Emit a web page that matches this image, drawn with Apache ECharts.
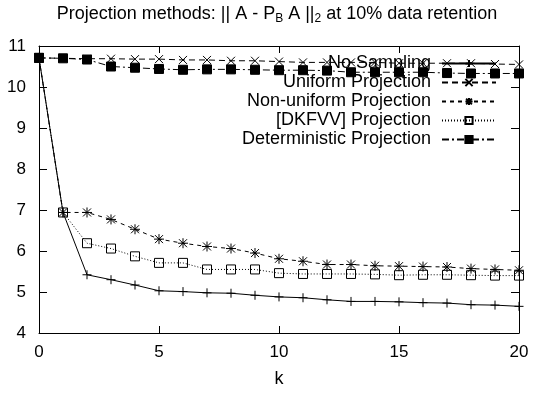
<!DOCTYPE html>
<html>
<head>
<meta charset="utf-8">
<script src="https://cdn.jsdelivr.net/npm/echarts@6/dist/echarts.min.js"></script>
<style>html,body{margin:0;padding:0;background:#fff}#c{width:533px;height:393px}</style>
</head>
<body>
<div id="c"></div>
<script>
var kValues = [0,1,2,3,4,5,6,7,8,9,10,11,12,13,14,15,16,17,18,19,20];
var seriesNames = ['No Sampling','Uniform Projection','Non-uniform Projection','[DKFVV] Projection','Deterministic Projection'];
var noSampling = [10.71, 6.94, 5.42, 5.30, 5.17, 5.03, 5.01, 4.98, 4.97, 4.92, 4.88, 4.86, 4.81, 4.77, 4.77, 4.76, 4.74, 4.73, 4.69, 4.68, 4.65];
var uniform = [10.71, 10.70, 10.69, 10.69, 10.68, 10.68, 10.66, 10.66, 10.64, 10.64, 10.62, 10.60, 10.60, 10.60, 10.60, 10.58, 10.58, 10.58, 10.58, 10.56, 10.55];
var nonUniform = [10.71, 6.94, 6.94, 6.77, 6.53, 6.29, 6.19, 6.11, 6.06, 5.95, 5.81, 5.75, 5.67, 5.67, 5.64, 5.63, 5.62, 5.61, 5.57, 5.55, 5.53];
var dkfvv = [10.71, 6.94, 6.19, 6.06, 5.87, 5.71, 5.71, 5.55, 5.55, 5.55, 5.46, 5.44, 5.44, 5.44, 5.43, 5.41, 5.42, 5.42, 5.41, 5.40, 5.40];
var deterministic = [10.71, 10.70, 10.67, 10.50, 10.47, 10.44, 10.42, 10.43, 10.43, 10.42, 10.41, 10.41, 10.40, 10.36, 10.36, 10.36, 10.36, 10.34, 10.33, 10.33, 10.33];
var xTicks = [0,5,10,15,20];
var yTicks = [4,5,6,7,8,9,10,11];

function pairs(arr){ return arr.map(function(v,i){ return [kValues[i], v]; }); }

var FONT = 'Liberation Sans, Arial, sans-serif';
var plusPath = 'path://M5,0L5,10M0,5L10,5';
var xPath = 'path://M0,0L10,10M10,0L0,10';
var starPath = 'path://M5,0L5,10M0,5L10,5M1,1L9,9M9,1L1,9';
var boxPath = 'path://M0,0L10,0L10,10L0,10Z';

function mk(name, data, symbol, size, dash, fill){
  return {
    name: name, type: 'line', data: pairs(data), symbol: symbol, symbolSize: size,
    showAllSymbol: true,
    lineStyle: {color: '#000', width: 1, type: dash},
    itemStyle: {color: fill, borderColor: '#000', borderWidth: 1},
    emphasis: {disabled: true}, animation: false, z: 3
  };
}

var chart = echarts.init(document.getElementById('c'), null, {renderer: 'canvas'});
chart.setOption({
  backgroundColor: '#fff',
  animation: false,
  title: {
    text: '{n|Projection methods: || A - P}{s|B}{n| A ||}{s|2}{n| at 10% data retention}',
    left: 277, top: 3, textAlign: 'center', padding: 0,
    textStyle: {
      fontWeight: 'normal',
      rich: {
        n: {fontFamily: FONT, fontSize: 18, fontWeight: 'normal', color: '#000', lineHeight: 22},
        s: {fontFamily: FONT, fontSize: 12, fontWeight: 'normal', color: '#000', lineHeight: 6, verticalAlign: 'bottom'}
      }
    }
  },
  legend: {
    orient: 'vertical', right: 36, top: 54, align: 'right', padding: 0,
    itemWidth: 54, itemHeight: 9, itemGap: 0,
    textStyle: {fontFamily: FONT, fontSize: 18, color: '#000', lineHeight: 19, padding: [0, 6, 0, 0]},
    data: seriesNames, selectedMode: false
  },
  grid: {left: 39, right: 14, top: 46, bottom: 56, containLabel: false},
  xAxis: [{
    type: 'value', min: 0, max: 20, interval: 5,
    name: 'k', nameLocation: 'middle', nameGap: 37,
    nameTextStyle: {fontFamily: FONT, fontSize: 18, color: '#000'},
    axisLine: {show: true, onZero: false, lineStyle: {color: '#000', width: 1}},
    axisTick: {show: true, inside: true, length: 7, lineStyle: {color: '#000'}},
    axisLabel: {fontFamily: FONT, fontSize: 17, color: '#000', margin: 11,
      customValues: xTicks},
    splitLine: {show: false}
  }, {
    type: 'value', min: 0, max: 20, interval: 5, position: 'top',
    axisLine: {show: true, onZero: false, lineStyle: {color: '#000', width: 1}},
    axisTick: {show: true, inside: true, length: 7, lineStyle: {color: '#000'}},
    axisLabel: {show: false}, splitLine: {show: false}
  }],
  yAxis: [{
    type: 'value', min: 4, max: 11, interval: 1,
    axisLine: {show: true, onZero: false, lineStyle: {color: '#000', width: 1}},
    axisTick: {show: true, inside: true, length: 8, lineStyle: {color: '#000'}},
    axisLabel: {fontFamily: FONT, fontSize: 17, color: '#000', margin: 13,
      customValues: yTicks},
    splitLine: {show: false}
  }, {
    type: 'value', min: 4, max: 11, interval: 1, position: 'right',
    axisLine: {show: true, onZero: false, lineStyle: {color: '#000', width: 1}},
    axisTick: {show: true, inside: true, length: 8, lineStyle: {color: '#000'}},
    axisLabel: {show: false}, splitLine: {show: false}
  }],
  series: [
    mk(seriesNames[0], noSampling, plusPath, 9, 'solid', 'none'),
    mk(seriesNames[1], uniform, xPath, 8, [6, 4], 'none'),
    mk(seriesNames[2], nonUniform, starPath, 10, [4, 4], 'none'),
    mk(seriesNames[3], dkfvv, boxPath, 9, [1, 2], 'none'),
    mk(seriesNames[4], deterministic, 'rect', 9, [7, 3, 2, 3], '#000')
  ]
});
</script>
</body>
</html>
